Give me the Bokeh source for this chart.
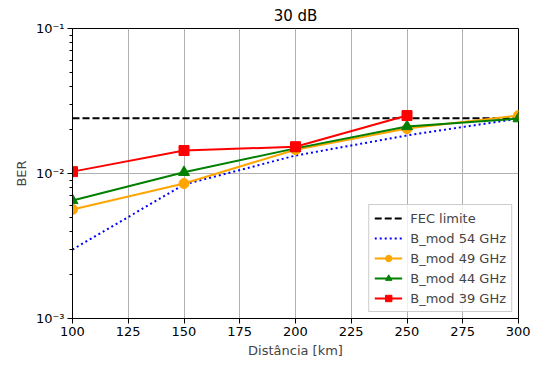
from bokeh.plotting import figure
from bokeh.models import Range1d, FixedTicker, CustomJSTickFormatter, Legend, LegendItem
from bokeh.embed import file_html
from bokeh.resources import INLINE

# ---- data ----
distance = [100, 150, 200, 250, 300]
distance_39 = [100, 150, 200, 250]
fec_x = [100, 300]
fec_limit = [0.024, 0.024]
ber_54 = [0.00299, 0.0084, 0.0133, 0.0183, 0.0239]
ber_49 = [0.00565, 0.00853, 0.0146, 0.0204, 0.0251]
ber_44 = [0.00652, 0.0102, 0.0149, 0.0211, 0.0239]
ber_39 = [0.0103, 0.0144, 0.0153, 0.0251]
x_ticks = [100, 125, 150, 175, 200, 225, 250, 275, 300]
y_ticks = [1e-3, 1e-2, 1e-1]
y_minor = [2e-3, 3e-3, 4e-3, 5e-3, 6e-3, 7e-3, 8e-3, 9e-3,
           2e-2, 3e-2, 4e-2, 5e-2, 6e-2, 7e-2, 8e-2, 9e-2]

FONT = "DejaVu Sans"

p = figure(width=530, height=362, y_axis_type="log",
           x_range=Range1d(100, 300), y_range=Range1d(1e-3, 1e-1),
           output_backend="svg", toolbar_location=None,
           title="30 dB")
p.min_border_left = 72
p.min_border_right = 12
p.min_border_bottom = 44
p.min_border_top = 28
p.background_fill_color = "white"
p.border_fill_color = "white"
p.outline_line_color = "black"
p.outline_line_width = 1

p.title.align = "center"
p.title.text_font = FONT
p.title.text_font_size = "15px"
p.title.text_font_style = "normal"
p.title.text_color = "black"
p.title.offset = 0
p.title.standoff = 7

p.xaxis.axis_label = "Distância [km]"
p.yaxis.axis_label = "BER"
for ax in (p.xaxis, p.yaxis):
    ax.axis_label_text_font = FONT
    ax.axis_label_text_font_size = "13px"
    ax.axis_label_text_font_style = "normal"
    ax.major_label_text_font = FONT
    ax.major_label_text_font_size = "13px"
    ax.major_label_text_color = "black"
    ax.axis_line_color = "black"
    ax.major_tick_in = 0
    ax.major_tick_out = 5
    ax.minor_tick_in = 0
    ax.minor_tick_out = 3
    ax.major_label_standoff = 3
    ax.axis_label_standoff = 4

p.xaxis.ticker = FixedTicker(ticks=x_ticks)
p.yaxis.ticker = FixedTicker(ticks=y_ticks, minor_ticks=y_minor)
p.yaxis.formatter = CustomJSTickFormatter(code="""
const e = Math.round(Math.log10(tick));
const sup = {'-':'\u207b','0':'\u2070','1':'\u00b9','2':'\u00b2','3':'\u00b3','4':'\u2074'};
return '10' + String(e).split('').map(c => sup[c]).join('');
""")

p.xgrid.ticker = FixedTicker(ticks=x_ticks)
p.ygrid.ticker = FixedTicker(ticks=y_ticks)
p.grid.grid_line_color = "#b0b0b0"
p.grid.grid_line_width = 1

items = []
r_fec = p.line(fec_x, fec_limit, line_color="black", line_width=2, line_dash="7 3")
items.append(LegendItem(label="FEC limite", renderers=[r_fec]))

r54 = p.line(distance, ber_54, line_color="blue", line_width=2, line_dash="2 3")
items.append(LegendItem(label="B_mod 54 GHz", renderers=[r54]))

r49 = p.line(distance, ber_49, line_color="orange", line_width=2)
m49 = p.scatter(distance, ber_49, marker="circle", size=10, fill_color="orange", line_color="orange")
items.append(LegendItem(label="B_mod 49 GHz", renderers=[r49, m49]))

r44 = p.line(distance, ber_44, line_color="green", line_width=2)
m44 = p.scatter(distance, ber_44, marker="triangle", size=11, fill_color="green", line_color="green")
items.append(LegendItem(label="B_mod 44 GHz", renderers=[r44, m44]))

r39 = p.line(distance_39, ber_39, line_color="red", line_width=2)
m39 = p.scatter(distance_39, ber_39, marker="square", size=10, fill_color="red", line_color="red")
items.append(LegendItem(label="B_mod 39 GHz", renderers=[r39, m39]))

legend = Legend(items=items, location="bottom_right")
legend.label_text_font = FONT
legend.label_text_font_size = "13px"
legend.border_line_color = "#cccccc"
legend.border_line_width = 1
legend.border_line_alpha = 1
legend.background_fill_alpha = 0.8
legend.glyph_width = 28
legend.glyph_height = 16
legend.spacing = 4
legend.padding = 5
legend.margin = 6
legend.label_standoff = 8
legend.label_height = 16
p.add_layout(legend)

open("out.html", "w").write(file_html(p, INLINE))
